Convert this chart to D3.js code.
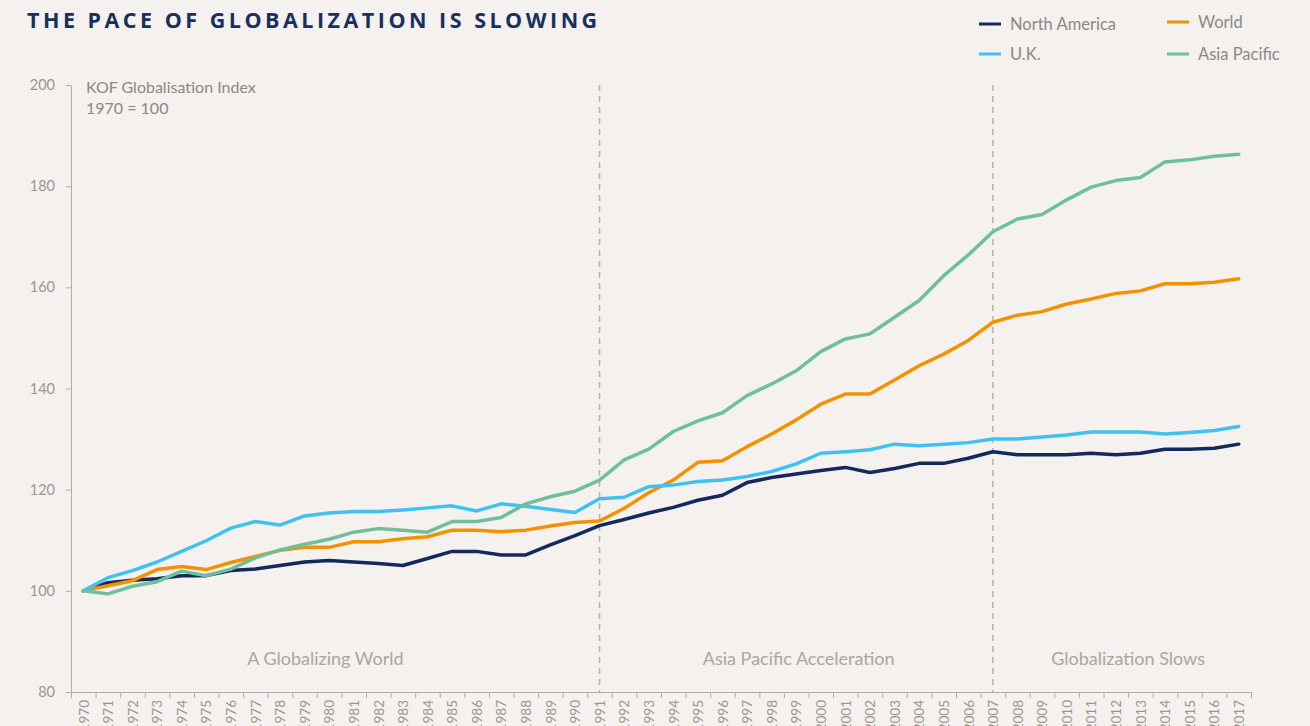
<!DOCTYPE html>
<html>
<head>
<meta charset="utf-8">
<script src="https://cdn.jsdelivr.net/npm/d3@7"></script>
<style>
  body { margin: 0; background: #f4f1ee; }
  svg { display: block; }
  .axis text { font-family: Lato, sans-serif; fill: #9c968f; }
  .axis path, .axis line { stroke: #b3aca4; }
</style>
</head>
<body>
<div id="chart"></div>
<script>
// Set up conventions
let width = 1310;
let height = 726;
let margin = ({top: 85, right: 59, bottom: 34, left: 71});

// data (KOF index, 1970 = 100)
let years = d3.range(1970, 2018);
let northAmerica = [100, 101.6, 102.1, 102.4, 103, 103, 104, 104.3, 105, 105.7,
  106, 105.7, 105.4, 105, 106.4, 107.8, 107.8, 107.1, 107.1, 109.1,
  110.9, 112.9, 114.1, 115.4, 116.5, 117.9, 118.9, 121.4, 122.4, 123.1,
  123.8, 124.4, 123.4, 124.2, 125.2, 125.2, 126.2, 127.5, 126.9, 126.9,
  126.9, 127.2, 126.9, 127.2, 128, 128, 128.2, 129];
let world = [100, 101, 102, 104.2, 104.8, 104.2, 105.6, 106.8, 108, 108.6,
  108.6, 109.7, 109.7, 110.3, 110.7, 112, 112, 111.7, 112, 112.8,
  113.5, 113.8, 116.3, 119.4, 121.9, 125.4, 125.7, 128.5, 131, 133.8,
  136.9, 138.9, 138.9, 141.7, 144.5, 146.8, 149.5, 153.1, 154.5, 155.2,
  156.7, 157.7, 158.8, 159.3, 160.7, 160.7, 161, 161.7];
let uk = [100, 102.6, 104, 105.7, 107.8, 109.9, 112.4, 113.7, 113, 114.8,
  115.4, 115.7, 115.7, 116, 116.4, 116.8, 115.8, 117.2, 116.7, 116.1,
  115.5, 118.2, 118.5, 120.6, 120.9, 121.6, 121.9, 122.6, 123.6, 125.1,
  127.2, 127.5, 127.9, 129, 128.7, 129, 129.3, 130, 130, 130.4,
  130.8, 131.4, 131.4, 131.4, 131, 131.3, 131.7, 132.5];
let asiaPacific = [100, 99.4, 100.9, 101.8, 103.9, 103, 104.3, 106.5, 108.1, 109.2,
  110.2, 111.6, 112.3, 112, 111.6, 113.7, 113.7, 114.5, 117.2, 118.6,
  119.7, 121.9, 125.9, 128, 131.5, 133.6, 135.2, 138.6, 140.9, 143.5,
  147.3, 149.8, 150.8, 154.1, 157.4, 162.3, 166.4, 171, 173.5, 174.4,
  177.3, 179.8, 181.1, 181.7, 184.8, 185.2, 185.9, 186.3];

let seriesNames = ["North America", "World", "U.K.", "Asia Pacific"];
let seriesColors = ["#14295c", "#f39200", "#41c1f0", "#6ec09c"];
let yTicks = [80, 100, 120, 140, 160, 180, 200];
let phaseYears = [1991, 2007];
let phaseLabels = ["A Globalizing World", "Asia Pacific Acceleration", "Globalization Slows"];
let phaseLabelYears = [1979.85, 1999.1, 2012.5];

let series = [northAmerica, world, uk, asiaPacific].map((vals, i) => ({
  name: seriesNames[i],
  color: seriesColors[i],
  values: vals.map((v, j) => ({year: years[j], value: v}))
}));

let svg = d3.select("#chart")
  .append("svg")
  .attr("width", width)
  .attr("height", height)
  .style("background", "#f4f1ee");

// Scales: years sit in the middle of one-year slots
let xScale = d3.scaleLinear()
  .domain([1969.5, 2017.5])
  .range([margin.left, width - margin.right]);

let yScale = d3.scaleLinear()
  .domain([80, 200])
  .range([height - margin.bottom, margin.top]);

// Title
svg.append("text")
  .attr("x", 27)
  .attr("y", 28)
  .attr("font-family", "'Open Sans', sans-serif")
  .attr("font-weight", 700)
  .attr("font-size", 21.5)
  .attr("letter-spacing", 3.5)
  .attr("fill", "#17305e")
  .text("THE PACE OF GLOBALIZATION IS SLOWING");

// Legend
let legend = svg.append("g").attr("class", "legend");
let legendPos = [[979, 24], [1167, 22], [979, 54], [1167, 54]];
series.forEach((s, i) => {
  let g = legend.append("g")
    .attr("transform", "translate(" + legendPos[i][0] + "," + legendPos[i][1] + ")");
  g.append("line")
    .attr("x1", 0).attr("x2", 22)
    .attr("stroke", s.color)
    .attr("stroke-width", 3);
  g.append("text")
    .attr("x", 31)
    .attr("dy", "0.35em")
    .attr("font-family", "Lato, sans-serif")
    .attr("font-size", 16.5)
    .attr("fill", "#8d8882")
    .text(s.name);
});

// Y axis
svg.append("g")
  .attr("class", "axis yaxis")
  .attr("transform", "translate(" + margin.left + ",0)")
  .call(d3.axisLeft(yScale).tickValues(yTicks).tickSize(5).tickSizeOuter(0).tickPadding(11))
  .call(g => g.selectAll("text").attr("font-size", 14.5));

// X axis: tick marks on slot edges, labels in the slots
let xAxisG = svg.append("g")
  .attr("class", "axis xaxis")
  .attr("transform", "translate(0," + yScale(80) + ")");

xAxisG.call(d3.axisBottom(xScale)
  .tickValues(d3.range(1969.5, 2018, 1))
  .tickSize(6)
  .tickSizeOuter(0)
  .tickFormat(""));

xAxisG.append("g")
  .call(d3.axisBottom(xScale).tickValues(years).tickSize(0).tickFormat(d3.format("d")))
  .call(g => g.select(".domain").remove())
  .selectAll("text")
  .attr("font-size", 13.5)
  .attr("text-anchor", "end")
  .attr("x", -8)
  .attr("y", 0)
  .attr("dy", "0.35em")
  .attr("transform", "rotate(-90)");

// y-axis caption
let caption = svg.append("text")
  .attr("x", 86)
  .attr("y", 93)
  .attr("font-family", "Lato, sans-serif")
  .attr("font-size", 16)
  .attr("fill", "#8d8882");
caption.append("tspan").attr("x", 86).text("KOF Globalisation Index");
caption.append("tspan").attr("x", 86).attr("dy", 21).text("1970 = 100");

// Phase dividers
svg.selectAll(".divider")
  .data(phaseYears)
  .enter()
  .append("line")
  .attr("class", "divider")
  .attr("x1", d => xScale(d))
  .attr("x2", d => xScale(d))
  .attr("y1", yScale(200))
  .attr("y2", yScale(80))
  .attr("stroke", "#b8b1a9")
  .attr("stroke-width", 1.5)
  .attr("stroke-dasharray", "6,5");

svg.selectAll(".phase")
  .data(phaseLabels)
  .enter()
  .append("text")
  .attr("class", "phase")
  .attr("x", (d, i) => xScale(phaseLabelYears[i]))
  .attr("y", yScale(86.6))
  .attr("dy", "0.35em")
  .attr("text-anchor", "middle")
  .attr("font-family", "Lato, sans-serif")
  .attr("font-size", 18)
  .attr("fill", "#aca59d")
  .text(d => d);

// Lines
let line = d3.line()
  .x(d => xScale(d.year))
  .y(d => yScale(d.value));

svg.selectAll(".line")
  .data(series)
  .enter()
  .append("path")
  .attr("class", "line")
  .attr("d", d => line(d.values))
  .style("fill", "none")
  .attr("stroke", d => d.color)
  .attr("stroke-width", 3.5)
  .attr("stroke-linejoin", "round")
  .attr("stroke-linecap", "round");
</script>
</body>
</html>
